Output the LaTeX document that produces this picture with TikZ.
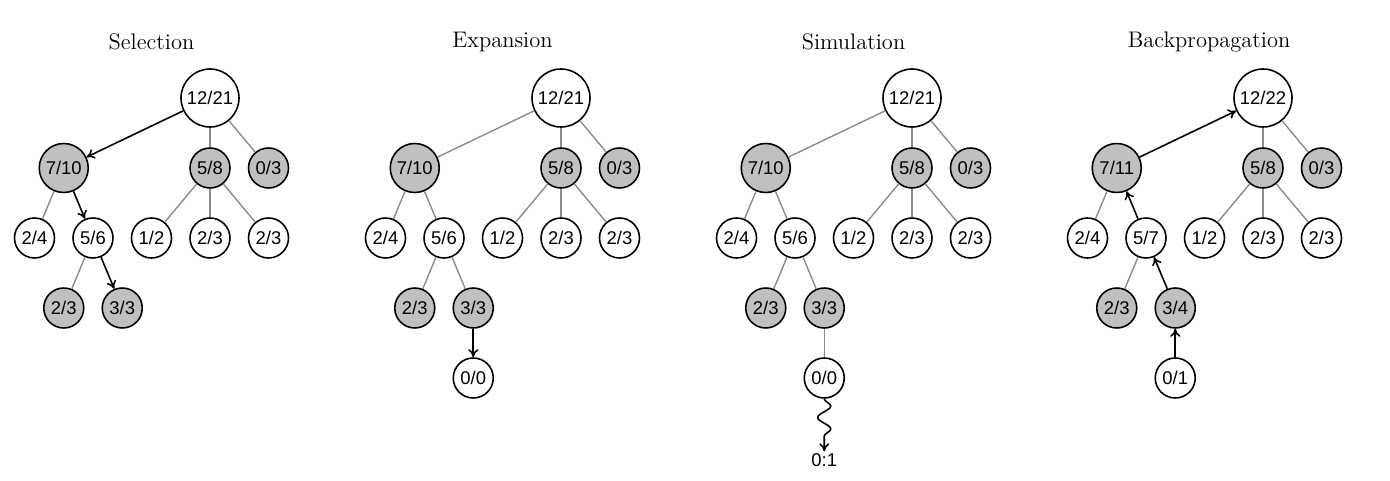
\documentclass[tikz,border=0pt]{standalone}
\usepackage{fontspec}
\usepackage{xcolor}
\usepackage{tikz}
\usetikzlibrary{shapes,arrows.meta,positioning,decorations.pathmorphing}

\newfontfamily\nodefont{Liberation Sans}
\definecolor{nodegray}{RGB}{192,192,192}
\definecolor{edgegray}{RGB}{140,140,140}

\begin{document}
\begin{tikzpicture}[
    tnode/.style={circle, draw=black, line width=0.9pt, fill=white, inner sep=0pt, minimum size=0.8cm, font=\nodefont\fontsize{10.5}{12}\selectfont},
    midnode/.style={tnode, minimum size=0.98cm},
    rootnode/.style={tnode, minimum size=1.16cm},
    visited/.style={fill=nodegray},
    tedge/.style={draw=edgegray, line width=0.8pt},
    tarrow/.style={-{To[length=1.6mm,width=2mm]}, line width=0.9pt, black},
    ttitle/.style={font=\fontsize{12.8}{14}\selectfont}
  ]
    \useasboundingbox (0,0) rectangle (27.8,-9.62);

    % Selection
    \begin{scope}[shift={(4.2,-1.96)}]
      \node[ttitle] (stitle) at (-1.17, 1.12) {Selection};
      \node[rootnode] (sroot) at (0,0) {12/21};
      \node[midnode, visited] (sL) at (-2.925,-1.4) {7/10};
      \node[tnode, visited] (sM) at (0,-1.4) {5/8};
      \node[tnode, visited] (sR) at (1.17,-1.4) {0/3};
      \node[tnode] (sLL) at (-3.51,-2.8) {2/4};
      \node[tnode] (sLR) at (-2.34,-2.8) {5/6};
      \node[tnode] (sML) at (-1.17,-2.8) {1/2};
      \node[tnode] (sMM) at (0,-2.8) {2/3};
      \node[tnode] (sMR) at (1.17,-2.8) {2/3};
      \node[tnode, visited] (sLRL) at (-2.925,-4.2) {2/3};
      \node[tnode, visited] (sLRR) at (-1.755,-4.2) {3/3};

      \draw[tedge] (sroot) -- (sM);
      \draw[tedge] (sroot) -- (sR);
      \draw[tedge] (sL) -- (sLL);
      \draw[tedge] (sM) -- (sML);
      \draw[tedge] (sM) -- (sMM);
      \draw[tedge] (sM) -- (sMR);
      \draw[tedge] (sLR) -- (sLRL);
      \draw[tarrow] (sroot) -- (sL);
      \draw[tarrow] (sL) -- (sLR);
      \draw[tarrow] (sLR) -- (sLRR);
    \end{scope}

    % Expansion
    \begin{scope}[shift={(11.22,-1.96)}]
      \node[ttitle] (etitle) at (-1.17, 1.12) {Expansion};
      \node[rootnode] (eroot) at (0,0) {12/21};
      \node[midnode, visited] (eL) at (-2.925,-1.4) {7/10};
      \node[tnode, visited] (eM) at (0,-1.4) {5/8};
      \node[tnode, visited] (eR) at (1.17,-1.4) {0/3};
      \node[tnode] (eLL) at (-3.51,-2.8) {2/4};
      \node[tnode] (eLR) at (-2.34,-2.8) {5/6};
      \node[tnode] (eML) at (-1.17,-2.8) {1/2};
      \node[tnode] (eMM) at (0,-2.8) {2/3};
      \node[tnode] (eMR) at (1.17,-2.8) {2/3};
      \node[tnode, visited] (eLRL) at (-2.925,-4.2) {2/3};
      \node[tnode, visited] (eLRR) at (-1.755,-4.2) {3/3};
      \node[tnode] (enew) at (-1.755,-5.6) {0/0};

      \draw[tedge] (eroot) -- (eL);
      \draw[tedge] (eroot) -- (eM);
      \draw[tedge] (eroot) -- (eR);
      \draw[tedge] (eL) -- (eLL);
      \draw[tedge] (eL) -- (eLR);
      \draw[tedge] (eM) -- (eML);
      \draw[tedge] (eM) -- (eMM);
      \draw[tedge] (eM) -- (eMR);
      \draw[tedge] (eLR) -- (eLRL);
      \draw[tedge] (eLR) -- (eLRR);
      \draw[tarrow] (eLRR) -- (enew);
    \end{scope}

    % Simulation
    \begin{scope}[shift={(18.24,-1.96)}]
      \node[ttitle] (mtitle) at (-1.17, 1.12) {Simulation};
      \node[rootnode] (mroot) at (0,0) {12/21};
      \node[midnode, visited] (mL) at (-2.925,-1.4) {7/10};
      \node[tnode, visited] (mM) at (0,-1.4) {5/8};
      \node[tnode, visited] (mR) at (1.17,-1.4) {0/3};
      \node[tnode] (mLL) at (-3.51,-2.8) {2/4};
      \node[tnode] (mLR) at (-2.34,-2.8) {5/6};
      \node[tnode] (mML) at (-1.17,-2.8) {1/2};
      \node[tnode] (mMM) at (0,-2.8) {2/3};
      \node[tnode] (mMR) at (1.17,-2.8) {2/3};
      \node[tnode, visited] (mLRL) at (-2.925,-4.2) {2/3};
      \node[tnode, visited] (mLRR) at (-1.755,-4.2) {3/3};
      \node[tnode] (mnew) at (-1.755,-5.6) {0/0};
      \node[font=\nodefont\fontsize{10.5}{12}\selectfont, inner sep=1pt] (mresult) at (-1.755,-7.24) {0:1};

      \draw[tedge] (mroot) -- (mL);
      \draw[tedge] (mroot) -- (mM);
      \draw[tedge] (mroot) -- (mR);
      \draw[tedge] (mL) -- (mLL);
      \draw[tedge] (mL) -- (mLR);
      \draw[tedge] (mM) -- (mML);
      \draw[tedge] (mM) -- (mMM);
      \draw[tedge] (mM) -- (mMR);
      \draw[tedge] (mLR) -- (mLRL);
      \draw[tedge] (mLR) -- (mLRR);
      \draw[tedge] (mLRR) -- (mnew);
      \draw[tarrow, decorate, decoration={snake, amplitude=1.3mm, segment length=4.6mm, post length=1.6mm}] (mnew) -- (mresult);
    \end{scope}

    % Backpropagation
    \begin{scope}[shift={(25.26,-1.96)}]
      \node[ttitle] (btitle) at (-1.08, 1.12) {Backpropagation};
      \node[rootnode] (broot) at (0,0) {12/22};
      \node[midnode, visited] (bL) at (-2.925,-1.4) {7/11};
      \node[tnode, visited] (bM) at (0,-1.4) {5/8};
      \node[tnode, visited] (bR) at (1.17,-1.4) {0/3};
      \node[tnode] (bLL) at (-3.51,-2.8) {2/4};
      \node[tnode] (bLR) at (-2.34,-2.8) {5/7};
      \node[tnode] (bML) at (-1.17,-2.8) {1/2};
      \node[tnode] (bMM) at (0,-2.8) {2/3};
      \node[tnode] (bMR) at (1.17,-2.8) {2/3};
      \node[tnode, visited] (bLRL) at (-2.925,-4.2) {2/3};
      \node[tnode, visited] (bLRR) at (-1.755,-4.2) {3/4};
      \node[tnode] (bnew) at (-1.755,-5.6) {0/1};

      \draw[tedge] (broot) -- (bM);
      \draw[tedge] (broot) -- (bR);
      \draw[tedge] (bL) -- (bLL);
      \draw[tedge] (bM) -- (bML);
      \draw[tedge] (bM) -- (bMM);
      \draw[tedge] (bM) -- (bMR);
      \draw[tedge] (bLR) -- (bLRL);
      \draw[tarrow] (bnew) -- (bLRR);
      \draw[tarrow] (bLRR) -- (bLR);
      \draw[tarrow] (bLR) -- (bL);
      \draw[tarrow] (bL) -- (broot);
    \end{scope}
  \end{tikzpicture}
\end{document}
